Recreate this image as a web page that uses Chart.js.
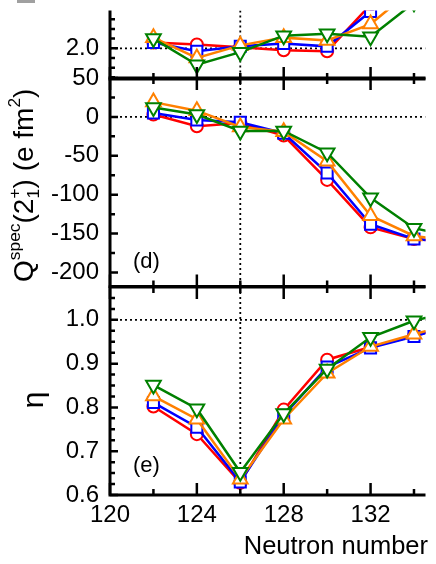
<!DOCTYPE html>
<html>
<head>
<meta charset="utf-8">
<script src="https://cdn.jsdelivr.net/npm/chart.js@4.4.1/dist/chart.umd.min.js"></script>
<style>
  html, body { margin: 0; padding: 0; background: #fff; }
  #wrap { position: relative; width: 436px; height: 564px; overflow: hidden; background: #fff; }
  #wrap > div { position: absolute; left: 0; width: 436px; }
</style>
</head>
<body>
<div id="wrap">
  <div style="top:0;height:100px"><canvas id="cRatio"></canvas></div>
  <div style="top:50px;height:260px"><canvas id="cQ"></canvas></div>
  <div style="top:270px;height:294px"><canvas id="cEta"></canvas></div>
</div>
<script>
// ==============================
// DATA
// ==============================
const neutrons = [122, 124, 126, 128, 130, 132, 134, 136];

// top panel (cut off at the top of the picture)
const ratioRed    = [2.06, 2.04, 2.01, 1.98, 1.97, 2.45, 2.75, 2.95];
const ratioBlue   = [2.06, 1.97, 2.02, 2.05, 2.02, 2.38, 2.70, 2.90];
const ratioOrange = [2.11, 1.90, 2.03, 2.11, 2.08, 2.25, 2.62, 2.85];
const ratioGreen  = [2.10, 1.83, 1.96, 2.13, 2.15, 2.12, 2.47, 2.70];

// (d) Q spec (e fm^2)
const qRed    = [3, -12, -8, -24, -81, -142, -157, -161];
const qBlue   = [5, -4, -7, -21, -72, -138, -157, -161];
const qOrange = [19, 8, -13, -19, -57, -127, -153, -160];
const qGreen  = [12, 3, -18, -18, -46, -104, -143, -155];

// (e) eta
const etaRed    = [0.802, 0.739, 0.628, 0.795, 0.909, 0.938, 0.963, 0.992];
const etaBlue   = [0.811, 0.755, 0.630, 0.782, 0.892, 0.936, 0.962, 0.992];
const etaOrange = [0.826, 0.773, 0.636, 0.773, 0.878, 0.939, 0.967, 0.994];
const etaGreen  = [0.851, 0.797, 0.652, 0.786, 0.888, 0.960, 0.998, 1.023];

// ticks
const xMajor = [120, 124, 128, 132];
const xMinor = [122, 126, 130, 134];
const ratioMajor = [2.0];
const ratioMinor = [1.7, 1.8, 1.9, 2.1, 2.2, 2.3];
const qMajor = [50, 0, -50, -100, -150, -200];
const qMinor = [25, -25, -75, -125, -175];
const etaMajor = [0.6, 0.7, 0.8, 0.9, 1.0];
const etaMinor = [0.625, 0.65, 0.675, 0.725, 0.75, 0.775, 0.825, 0.85, 0.875,
                  0.925, 0.95, 0.975, 1.025, 1.05];

const SHELL_N = 126;
const X_MIN = 120, X_MAX = 134.53;

// ==============================
// STYLE
// ==============================
const FONT = "'Liberation Sans', Arial, sans-serif";
Chart.defaults.font.family = FONT;

const SERIES = [
  { color: "#ff0000", style: "circle",   radius: 6,   rotation: 0 },
  { color: "#0000ff", style: "rect",     radius: 7.8, rotation: 0 },
  { color: "#ff8000", style: "triangle", radius: 8.5, rotation: 0 },
  { color: "#008000", style: "triangle", radius: 8.5, rotation: 180 }
];

function makeDatasets(lists) {
  return lists.map((vals, i) => ({
    data: neutrons.map((n, k) => ({ x: n, y: vals[k] })),
    borderColor: SERIES[i].color,
    borderWidth: 2.5,
    pointStyle: SERIES[i].style,
    pointRadius: SERIES[i].radius,
    pointRotation: SERIES[i].rotation,
    pointBackgroundColor: "#fff",
    pointBorderColor: SERIES[i].color,
    pointBorderWidth: 2,
    order: 3 - i
  }));
}

// rich text along a baseline, parts: {t, s, dy} or {sub, sup, s}
function drawRich(ctx, parts, size) {
  const w = p => {
    ctx.font = `${size * p.s}px ${FONT}`;
    if (p.t !== undefined) return ctx.measureText(p.t).width;
    return Math.max(ctx.measureText(p.sub).width, ctx.measureText(p.sup).width);
  };
  const total = parts.reduce((s, p) => s + w(p), 0);
  let x = -total / 2;
  parts.forEach(p => {
    const pw = w(p);
    ctx.font = `${size * p.s}px ${FONT}`;
    if (p.t !== undefined) {
      ctx.fillText(p.t, x, (p.dy || 0) * size);
    } else {
      ctx.fillText(p.sub, x, 0.22 * size);
      ctx.fillText(p.sup, x, -0.45 * size);
    }
    x += pw;
  });
}

// ==============================
// FRAME PLUGIN (inward ticks, dotted guides, labels)
// ==============================
const framePlugin = {
  id: "frame",
  beforeDatasetsDraw(chart, args, o) {
    const { ctx, chartArea: a, scales: { x, y } } = chart;
    ctx.save();
    ctx.beginPath();
    ctx.rect(a.left, a.top, a.right - a.left, a.bottom - a.top);
    ctx.clip();
    ctx.strokeStyle = "#000";
    ctx.lineWidth = 1.8;
    ctx.setLineDash([2, 3]);
    ctx.beginPath();
    const px = x.getPixelForValue(SHELL_N);
    ctx.moveTo(px, a.top - 20);
    ctx.lineTo(px, a.bottom);
    const py = y.getPixelForValue(o.ref);
    ctx.moveTo(a.left, py);
    ctx.lineTo(a.right, py);
    ctx.stroke();
    ctx.restore();
  },
  afterDatasetsDraw(chart, args, o) {
    const { ctx, chartArea: a, scales: { x, y } } = chart;
    ctx.save();
    ctx.strokeStyle = "#000";
    ctx.lineCap = "butt";
    ctx.lineWidth = 3;
    ctx.beginPath();
    ctx.moveTo(a.left, a.top - (o.top ? 1.5 : 0));
    ctx.lineTo(a.left, a.bottom + 1.5);
    ctx.moveTo(a.left, a.bottom);
    ctx.lineTo(a.right, a.bottom);
    if (o.top) {
      ctx.moveTo(a.left, a.top);
      ctx.lineTo(a.right, a.top);
    }
    ctx.stroke();

    ctx.lineWidth = 2.5;
    ctx.beginPath();
    const xt = (vals, len) => vals.forEach(v => {
      const p = x.getPixelForValue(v);
      ctx.moveTo(p, a.bottom);
      ctx.lineTo(p, a.bottom - len);
      if (o.top) {
        ctx.moveTo(p, a.top);
        ctx.lineTo(p, a.top + len);
      }
    });
    xt(xMajor, 12);
    xt(xMinor, 6);
    const yt = (vals, len) => vals.forEach(v => {
      const p = y.getPixelForValue(v);
      if (p < a.top - 1 || p > a.bottom + 1) return;
      ctx.moveTo(a.left, p);
      ctx.lineTo(a.left + len, p);
    });
    yt(o.yMajor, 8);
    yt(o.yMinor, 5);
    ctx.stroke();

    ctx.fillStyle = "#000";
    if (o.tag) {
      ctx.font = `22px ${FONT}`;
      ctx.textAlign = "left";
      ctx.textBaseline = "middle";
      ctx.fillText(o.tag, a.left + 23, a.bottom + o.tagDy);
    }
    if (o.title) {
      ctx.save();
      ctx.translate(o.title.x, (a.top + a.bottom) / 2 + o.title.dy);
      ctx.rotate(-Math.PI / 2);
      ctx.textAlign = "left";
      ctx.textBaseline = "alphabetic";
      drawRich(ctx, o.title.parts, o.title.size);
      ctx.restore();
    }
    if (o.xTitle) {
      ctx.font = `25.5px ${FONT}`;
      ctx.textAlign = "right";
      ctx.textBaseline = "middle";
      ctx.fillText(o.xTitle, 428, o.xTitleY);
    }
    if (o.stub) {
      ctx.fillStyle = "#a0a0a0";
      ctx.fillRect(17, 0, 18, 3);
    }
    ctx.restore();
  }
};

// ==============================
// PANELS
// ==============================
function makePanel(id, lists, cfg) {
  return new Chart(document.getElementById(id), {
    type: "line",
    data: { datasets: makeDatasets(lists) },
    options: {
      responsive: true,
      maintainAspectRatio: false,
      animation: false,
      events: [],
      layout: { padding: cfg.padding },
      plugins: {
        legend: { display: false },
        tooltip: { enabled: false },
        frame: cfg.frame
      },
      scales: {
        x: {
          type: "linear",
          min: X_MIN,
          max: X_MAX,
          display: cfg.showX,
          grid: { display: false, drawTicks: false },
          border: { display: false },
          ticks: {
            font: { size: 24 }, color: "#000", padding: 6,
            autoSkip: false, maxRotation: 0, callback: v => String(v)
          },
          afterBuildTicks: s => { s.ticks = xMajor.map(v => ({ value: v })); },
          afterFit: s => {
            s.height = cfg.showX ? cfg.xHeight : 0;
            s.paddingLeft = 0;
            s.paddingRight = 0;
          }
        },
        y: {
          min: cfg.yMin,
          max: cfg.yMax,
          grid: { display: false, drawTicks: false },
          border: { display: false },
          ticks: {
            font: { size: 24 }, color: "#000", padding: 11,
            autoSkip: false, callback: v => cfg.fmt(v)
          },
          afterBuildTicks: s => { s.ticks = cfg.frame.yMajor.map(v => ({ value: v })); },
          afterFit: s => {
            s.width = 110;
            s.paddingTop = 0;
            s.paddingBottom = 0;
          }
        }
      }
    },
    plugins: [framePlugin]
  });
}

makePanel("cRatio", [ratioRed, ratioBlue, ratioOrange, ratioGreen], {
  padding: { top: 0, bottom: 21, left: 0, right: 0 },
  showX: false,
  yMin: 1.683, yMax: 2.39,
  fmt: v => v.toFixed(1),
  frame: { ref: 2.0, yMajor: ratioMajor, yMinor: ratioMinor, top: false, stub: true }
});

makePanel("cQ", [qRed, qBlue, qOrange, qGreen], {
  padding: { top: 28, bottom: 23.5, left: 0, right: 0 },
  showX: false,
  yMin: -218, yMax: 50,
  fmt: v => String(v),
  frame: {
    ref: 0, yMajor: qMajor, yMinor: qMinor, top: true,
    tag: "(d)", tagDy: -24.5,
    title: {
      x: 33, dy: 3, size: 28,
      parts: [
        { t: "Q", s: 1 },
        { t: "spec", s: 0.62, dy: -0.45 },
        { t: "(2", s: 1 },
        { sub: "1", sup: "+", s: 0.62 },
        { t: ") (e fm", s: 1 },
        { t: "2", s: 0.62, dy: -0.45 },
        { t: ")", s: 1 }
      ]
    }
  }
});

makePanel("cEta", [etaRed, etaBlue, etaOrange, etaGreen], {
  padding: { top: 17, bottom: 0, left: 0, right: 0 },
  showX: true,
  xHeight: 69,
  yMin: 0.6, yMax: 1.075,
  fmt: v => v.toFixed(1),
  frame: {
    ref: 1.0, yMajor: etaMajor, yMinor: etaMinor, top: true,
    tag: "(e)", tagDy: -29,
    title: { x: 43, dy: 9, size: 30, parts: [{ t: "η", s: 1 }] },
    xTitle: "Neutron number", xTitleY: 277
  }
});
</script>
</body>
</html>
